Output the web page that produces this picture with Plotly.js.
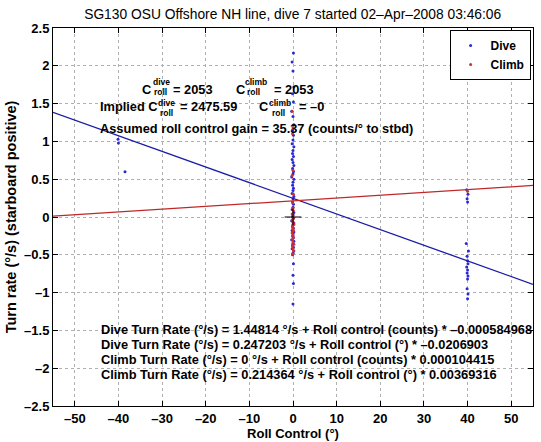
<!DOCTYPE html>
<html>
<head>
<meta charset="utf-8">
<script src="https://cdn.plot.ly/plotly-3.0.1.min.js"></script>
<style>html,body{margin:0;padding:0;background:#fff;}#chart{width:541px;height:442px;}</style>
</head>
<body>
<div id="chart"></div>
<script>
// ---- Data ----
var diveX = [0.1,-0.2,0.0,0.2,-0.1,0.1,-0.3,0.0,0.2,-0.1,0.1,0.0,-0.2,0.2,0.0,-0.1,0.1,-0.2,0.0,0.2,-0.1,0.1,0.0,-0.3,0.2,0.0,-0.1,0.1,0.0,-0.2,0.2,0.0,-0.1,0.1,0.0,-0.2,0.2,0.0,-0.1,0.1,-0.3,0.2,0.0,-0.1,0.1,-0.2,0.2,0.0,-0.1,0.1,-0.3,0.2,0.0,-0.1,0.1,-0.2,0.2,0.0,-0.1,0.1,0.0,0.1,0.0,
  39.8,40.1,39.9,40.0,39.7,40.2,39.9,40.0,40.1,39.8,40.0,39.9,40.1,40.0,39.9,40.1,40.0,
  -40.1,-40.0,-38.5];
var diveY = [2.17,2.05,1.93,1.72,1.63,1.52,1.40,1.33,1.22,1.15,1.08,1.02,0.97,0.93,0.88,0.84,0.80,0.76,0.72,0.68,0.64,0.60,0.57,0.53,0.50,0.46,0.42,0.38,0.35,0.31,0.27,0.24,0.20,0.17,0.13,0.10,0.06,0.03,0.00,-0.02,-0.05,-0.08,-0.10,-0.13,-0.15,-0.18,-0.20,-0.22,-0.25,-0.27,-0.30,-0.32,-0.35,-0.37,-0.40,-0.42,-0.45,-0.48,-0.50,-0.62,-0.77,-0.88,-1.15,
  0.36,0.30,0.24,0.20,-0.35,-0.45,-0.52,-0.58,-0.62,-0.66,-0.70,-0.74,-0.78,-0.82,-0.95,-1.02,-1.08,
  1.03,0.98,0.60];
var climbX = [-0.2,0.0,-0.1,0.0,-0.2,0.1,-0.1,0.0,0.1,-0.2,0.0,0.1,-0.1,0.0,0.2,-0.1,0.0,0.1,-0.2,0.0,0.1,-0.1,0.0,0.2,-0.1,0.0,0.1,-0.1,40.0];
var climbY = [1.40,1.18,1.10,0.62,0.55,0.30,0.19,0.12,0.08,0.04,0.02,-0.01,-0.04,-0.07,-0.10,-0.12,-0.15,-0.18,-0.21,-0.24,-0.27,-0.30,-0.33,-0.36,-0.39,-0.42,-0.45,-0.49,0.34];
var fitX = [-55, 55];
var diveFitY = [1.385, -0.891];
var climbFitY = [0.011, 0.417];
var xTickVals = [-50,-40,-30,-20,-10,0,10,20,30,40,50];
var xTickText = ['\u201350','\u201340','\u201330','\u201320','\u201310','0','10','20','30','40','50'];
var yTickVals = [-2.5,-2,-1.5,-1,-0.5,0,0.5,1,1.5,2,2.5];
var yTickText = ['\u20132.5','\u20132','\u20131.5','\u20131','\u20130.5','0','0.5','1','1.5','2','2.5'];
var titleText = 'SG130 OSU Offshore NH line, dive 7 started 02\u2013Apr\u20132008 03:46:06';
var eqLines = [
  'Dive Turn Rate (\u00b0/s) = 1.44814 \u00b0/s + Roll control (counts) * \u20130.000584968',
  'Dive Turn Rate (\u00b0/s) = 0.247203 \u00b0/s + Roll control (\u00b0) * \u20130.0206903',
  'Climb Turn Rate (\u00b0/s) = 0 \u00b0/s + Roll control (counts) * 0.000104415',
  'Climb Turn Rate (\u00b0/s) = 0.214364 \u00b0/s + Roll control (\u00b0) * 0.00369316'
];

var FONT = 'Liberation Sans, Arial, Helvetica, sans-serif';
var BLUE = '#1c1ca8', RED = '#c02828';

var traces = [
  {x: diveX, y: diveY, type: 'scatter', mode: 'markers', name: '<b>Dive</b>',
   marker: {color: '#2a2ad0', size: 3}},
  {x: climbX, y: climbY, type: 'scatter', mode: 'markers', name: '<b>Climb</b>',
   marker: {color: '#d03030', size: 3}},
  {x: fitX, y: diveFitY, type: 'scatter', mode: 'lines', showlegend: false, hoverinfo: 'skip',
   line: {color: BLUE, width: 1.3}},
  {x: fitX, y: climbFitY, type: 'scatter', mode: 'lines', showlegend: false, hoverinfo: 'skip',
   line: {color: RED, width: 1.3}},
  {x: [0], y: [0], type: 'scatter', mode: 'markers', showlegend: false, hoverinfo: 'skip',
   marker: {symbol: 'cross-thin', size: 12, line: {color: '#000', width: 1}}}
];

function px2paper(px, py) { return {x: (px - 53) / 480, y: (406 - py) / 378}; }
var annotations = [];
function addText(txt, px, py, size) {
  var p = px2paper(px, py);
  annotations.push({text: '<b>' + txt + '</b>', xref: 'paper', yref: 'paper', x: p.x, y: p.y,
    xanchor: 'left', yanchor: 'middle', showarrow: false, borderpad: 0,
    font: {family: FONT, size: size || 12.8, color: '#000'}});
}
var SS = 8.5;
// line 1
addText('C', 141, 89); addText('dive', 152, 82, SS); addText('roll', 153, 92.5, SS); addText('= 2053', 172, 89);
addText('C', 235, 89); addText('climb', 244, 82, SS); addText('roll', 246, 92.5, SS); addText('= 2053', 273, 89);
// line 2
addText('Implied C', 99, 107); addText('dive', 157, 102.5, SS); addText('roll', 159, 113, SS); addText('= 2475.59', 179, 107);
addText('C', 258, 107); addText('climb', 268, 102.5, SS); addText('roll', 271, 113, SS); addText('= \u20130', 298, 107);
// line 3
addText('Assumed roll control gain = 35.37 (counts/\u00b0 to stbd)', 99, 128);
// equations
for (var i = 0; i < eqLines.length; i++) addText(eqLines[i], 100, 329 + i * 15.3);

var axisCommon = {
  showline: true, linecolor: '#000', linewidth: 1, mirror: 'ticks',
  ticks: 'inside', ticklen: 5, tickcolor: '#000',
  showgrid: true, gridcolor: '#b0b0b0', griddash: 'dot', gridwidth: 1,
  zeroline: false, automargin: false,
  tickfont: {family: FONT, size: 13, color: '#000', weight: 'bold'}
};

var layout = {
  width: 541, height: 442,
  margin: {l: 53, r: 8, t: 28, b: 36},
  paper_bgcolor: '#fff', plot_bgcolor: '#fff',
  font: {family: FONT, color: '#000'},
  title: {text: titleText, x: 0.541, xanchor: 'center', y: 0.968, yanchor: 'middle',
          font: {family: FONT, size: 13.8, color: '#000'}},
  xaxis: Object.assign({}, axisCommon, {range: [-55, 55], tickvals: xTickVals, ticktext: xTickText,
    title: {text: '<b>Roll Control (\u00b0)</b>', standoff: 1, font: {family: FONT, size: 13, color: '#000'}}}),
  yaxis: Object.assign({}, axisCommon, {range: [-2.5, 2.5], tickvals: yTickVals, ticktext: yTickText,
    title: {text: '<b>Turn rate (\u00b0/s) (starboard positive)</b>', standoff: 4, font: {family: FONT, size: 14.5, color: '#000'}}}),
  legend: {x: 0.995, xanchor: 'right', y: 0.995, yanchor: 'top', bgcolor: '#fff', bordercolor: '#000', borderwidth: 1,
           font: {family: FONT, size: 12, color: '#000'}, itemsizing: 'trace', tracegroupgap: 0},
  annotations: annotations,
  showlegend: true
};

Plotly.newPlot('chart', traces, layout, {displayModeBar: false, staticPlot: true});
</script>
</body>
</html>
